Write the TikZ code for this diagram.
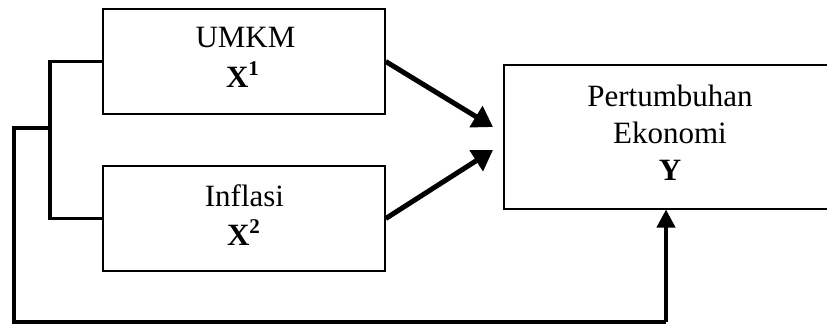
\documentclass[tikz,border=0pt]{standalone}
\usepackage{fontspec}
\setmainfont{Liberation Serif}
\usetikzlibrary{arrows.meta}
\newcommand{\supnum}[1]{\raisebox{12pt}{\fontsize{21}{21}\selectfont\bfseries #1}}
\begin{document}
\begin{tikzpicture}[x=1pt,y=-1pt,
  box/.style={draw=black,line width=1.5pt,rectangle,inner sep=0pt},
  txt/.style={inner sep=0pt,font=\fontsize{31}{37}\selectfont},
  brk/.style={line width=3.5pt,line join=miter},
  arr/.style={line width=5pt,-{Triangle[length=20pt,width=24pt]}},
  varr/.style={line width=4pt,-{Triangle[length=18pt,width=18pt]}}]
\useasboundingbox (0,0) rectangle (827,324);
\clip (0,0) rectangle (827,324);
\node[box,minimum width=282pt,minimum height=105pt] (umkm) at (244,61.5) {};
\node[box,minimum width=282pt,minimum height=105pt] (infl) at (244,218.5) {};
\node[box,minimum width=332pt,minimum height=144pt] (Y) at (670,137) {};
\node[txt,anchor=base] (t1) at (245.5,47) {UMKM};
\node[txt,anchor=base] (t2) at (242.5,87) {\textbf{X}\supnum{1}};
\node[txt,anchor=base] (t3) at (244.5,206) {Inflasi};
\node[txt,anchor=base] (t4) at (243.5,245) {\textbf{X}\supnum{2}};
\node[txt,anchor=base] (t5) at (670,106) {Pertumbuhan};
\node[txt,anchor=base] (t6) at (670,143) {Ekonomi};
\node[txt,anchor=base] (t7) at (670,180) {\textbf{Y}};
\coordinate (tipA) at (493,127);
\coordinate (tipB) at (493,150);
\coordinate (bj) at (50,128);
\coordinate (oc) at (14,128);
\coordinate (bl) at (14,322);
\coordinate (br) at (666,322);
\coordinate (ys) at (666,209.5);
\draw[arr] (umkm.east) -- (tipA);
\draw[arr] (infl.east) -- (tipB);
\draw[brk] (umkm.west) -- (50,61.5) -- (50,218.5) -- (infl.west);
\draw[brk] (bj) -- (oc) -- (bl) -- (br);
\draw[varr] (br) -- (ys);
\end{tikzpicture}
\end{document}
